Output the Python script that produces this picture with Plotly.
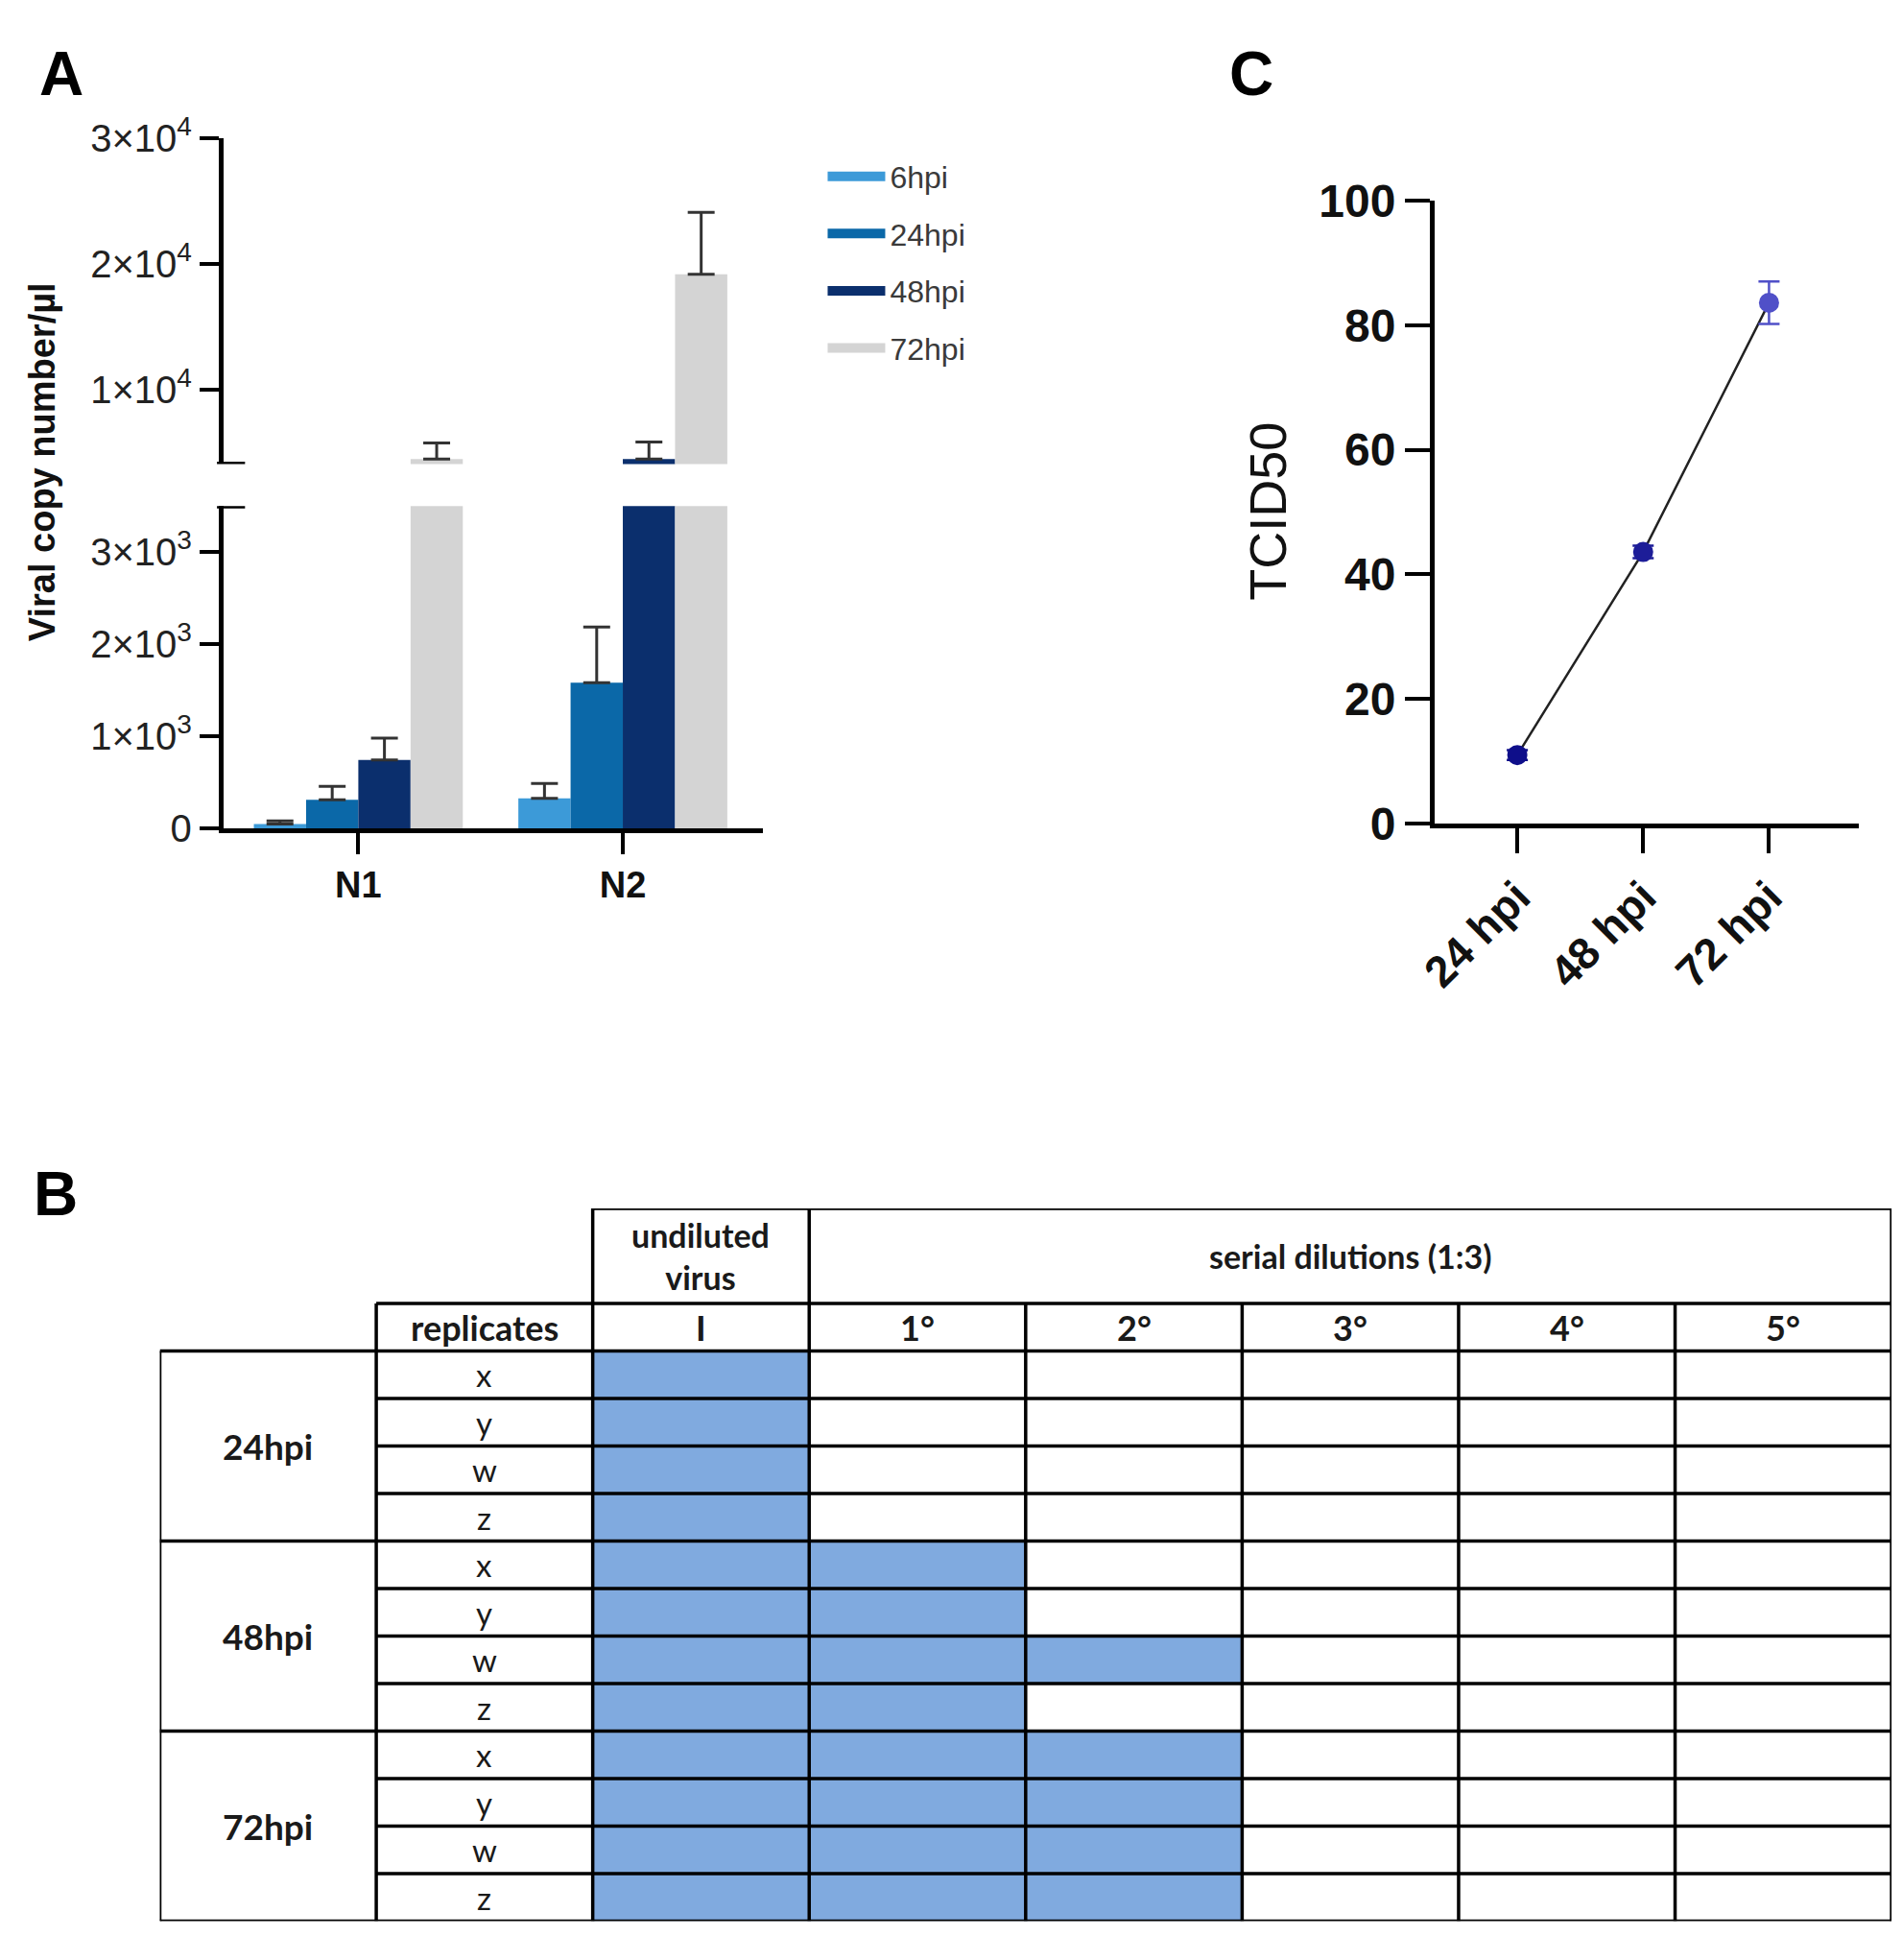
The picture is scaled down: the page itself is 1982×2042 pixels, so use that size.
import plotly.graph_objects as go

# ---- panel A : viral copy number (broken y axis) ----
targets = ['N1', 'N2']
timepoints_a = ['6hpi', '24hpi', '48hpi', '72hpi']
bar_colors = ['#3c9ad8', '#0b68a8', '#0b2f6d', '#d4d4d4']
copies_mean = {
    '6hpi': [45, 325],
    '24hpi': [309, 1580],
    '48hpi': [742, 4490],
    '72hpi': [4490, 19170],
}
copies_err = {
    '6hpi': [35, 160],
    '24hpi': [145, 606],
    '48hpi': [237, 1360],
    '72hpi': [1270, 4920],
}
low_ticks = [0, 1000, 2000, 3000]
low_ticktext = ['0', '1×10<sup>3</sup>', '2×10<sup>3</sup>', '3×10<sup>3</sup>']
high_ticks = [10000, 20000, 30000]
high_ticktext = ['1×10<sup>4</sup>', '2×10<sup>4</sup>', '3×10<sup>4</sup>']
low_range = [0, 3500]
high_range = [4100, 30000]

# ---- panel C : TCID50 ----
timepoints_c = ['24 hpi', '48 hpi', '72 hpi']
tcid50_mean = [11.0, 43.6, 83.6]
tcid50_err = [0.8, 1.0, 3.4]
marker_colors = ['#0e0e8a', '#1d1d98', '#5050c8']

# ---- panel B : dilution table ----
groups = ['24hpi', '48hpi', '72hpi']
replicates = ['x', 'y', 'w', 'z']
dilutions = ['I', '1°', '2°', '3°', '4°', '5°']
# number of positive wells (counted from the undiluted column) per replicate
positive_wells = [
    [1, 1, 1, 1],
    [2, 2, 3, 2],
    [3, 3, 3, 3],
]
well_blue = '#80aadf'

W, H = 1982, 2042
FONT = 'Liberation Sans, Arial, sans-serif'
TFONT = 'Lato, Liberation Sans, sans-serif'


def px_x(p):
    return p / W


def px_y(p):
    return 1 - p / H


fig = go.Figure()

# bars, drawn in both segments of the broken axis
for i, tp in enumerate(timepoints_a):
    for xa, ya in (('x', 'y'), ('x2', 'y2')):
        fig.add_trace(go.Bar(
            x=targets, y=copies_mean[tp],
            marker=dict(color=bar_colors[i], line=dict(width=0)),
            error_y=dict(type='data', array=copies_err[tp],
                         arrayminus=[0] * len(targets), symmetric=False,
                         color='#333333', thickness=3, width=14),
            xaxis=xa, yaxis=ya, showlegend=False, hoverinfo='skip',
        ))
    # legend swatch
    fig.add_trace(go.Scatter(
        x=[None], y=[None], mode='lines', name=tp,
        line=dict(color=bar_colors[i], width=15),
        legendgroup=tp, xaxis='x', yaxis='y',
    ))

# panel C line + points
fig.add_trace(go.Scatter(
    x=timepoints_c, y=tcid50_mean, mode='lines',
    line=dict(color='#222222', width=2.5),
    xaxis='x3', yaxis='y3', showlegend=False, hoverinfo='skip',
))
for i, tp in enumerate(timepoints_c):
    fig.add_trace(go.Scatter(
        x=[tp], y=[tcid50_mean[i]], mode='markers',
        marker=dict(color=marker_colors[i], size=21),
        error_y=dict(type='data', array=[tcid50_err[i]],
                     color=marker_colors[i], thickness=2.5, width=11),
        xaxis='x3', yaxis='y3', showlegend=False, cliponaxis=False,
    ))

# panel B table fills
n_cols = 2 + len(dilutions)
n_head = 3
z = []
for g in positive_wells:
    for cnt in g:
        z.append([1 if c < cnt else 0 for c in range(len(dilutions))])
n_rows = n_head + len(z)
fig.add_trace(go.Heatmap(
    z=z, x0=2.5, dx=1, y0=n_head + 0.5, dy=1,
    colorscale=[[0, 'white'], [1, well_blue]], zmin=0, zmax=1,
    showscale=False, hoverinfo='skip', xaxis='x4', yaxis='y4',
))

# table grid
shapes = []


def hline(y, x0, x1):
    shapes.append(dict(type='line', xref='x4', yref='y4', x0=x0, x1=x1,
                       y0=y, y1=y, line=dict(color='black', width=3.5)))


def vline(x, y0, y1):
    shapes.append(dict(type='line', xref='x4', yref='y4', x0=x, x1=x,
                       y0=y0, y1=y1, line=dict(color='black', width=3.5)))


hline(0, 2, n_cols)
hline(2, 1, n_cols)
hline(n_head, 0, n_cols)
for k in range(1, len(z) + 1):
    if k % len(replicates) == 0:
        hline(n_head + k, 0, n_cols)
    else:
        hline(n_head + k, 1, n_cols)
vline(0, n_head, n_rows)
vline(1, 2, n_rows)
vline(2, 0, n_rows)
vline(3, 0, n_rows)
for c in range(4, n_cols):
    vline(c, 2, n_rows)
vline(n_cols, 0, n_rows)

# axis break marks for panel A
for yref, yv in (('y', low_range[1]), ('y2', high_range[0])):
    shapes.append(dict(type='line', xref='x domain', yref=yref,
                       x0=-0.012, x1=0.04, y0=yv, y1=yv,
                       line=dict(color='black', width=5)))

annotations = []


def table_text(x, y, text, size, bold=True):
    annotations.append(dict(xref='x4', yref='y4', x=x, y=y, text=text,
                            showarrow=False, xanchor='center', yanchor='middle',
                            font=dict(family=TFONT, size=size, color='#1a1a1a',
                                      weight='bold' if bold else 'normal')))


table_text(2.5, 1.0, 'undiluted<br>virus', 34)
table_text(5.5, 1.0, 'serial dilutions (1:3)', 34)
table_text(1.5, 2.5, 'replicates', 36)
for j, d in enumerate(dilutions):
    table_text(2.5 + j, 2.5, d, 36)
for gi, g in enumerate(groups):
    table_text(0.5, n_head + gi * len(replicates) + len(replicates) / 2, g, 37)
    for ri, r in enumerate(replicates):
        table_text(1.5, n_head + gi * len(replicates) + ri + 0.5, r, 33, bold=False)

# panel letters and titles
for letter, lx, ly in (('A', 44, 50), ('C', 1297, 50), ('B', 38, 1250)):
    annotations.append(dict(xref='paper', yref='paper', x=px_x(lx), y=px_y(ly),
                            text=letter, showarrow=False,
                            xanchor='center', yanchor='middle',
                            font=dict(family=FONT, size=64, color='black',
                                      weight='bold')))
annotations.append(dict(xref='paper', yref='paper', x=px_x(25), y=px_y(466),
                        text='Viral copy number/µl', textangle=-90,
                        showarrow=False, xanchor='center', yanchor='middle',
                        font=dict(family=FONT, size=38, color='#111111',
                                  weight='bold')))
annotations.append(dict(xref='paper', yref='paper', x=px_x(1314), y=px_y(519),
                        text='TCID50', textangle=-90, showarrow=False,
                        xanchor='center', yanchor='middle',
                        font=dict(family=FONT, size=54, color='#111111')))

axis_common = dict(showline=True, linecolor='black', linewidth=5,
                   ticks='outside', tickcolor='black', tickwidth=4,
                   showgrid=False, zeroline=False)

fig.update_layout(
    width=W, height=H,
    margin=dict(l=0, r=0, t=0, b=0),
    paper_bgcolor='white', plot_bgcolor='white',
    barmode='group', bargap=0.21, bargroupgap=0,
    font=dict(family=FONT, color='#222222'),
    showlegend=True,
    legend=dict(x=px_x(846), y=px_y(132), xanchor='left', yanchor='top',
                font=dict(family=FONT, size=32, color='#3a3a3a'),
                tracegroupgap=15, itemwidth=60, bgcolor='rgba(0,0,0,0)'),
    xaxis=dict(domain=[px_x(215), px_x(783)], anchor='y', type='category',
               range=[-0.51, 1.53], ticklen=22,
               tickfont=dict(size=38, color='#111111', weight='bold'),
               **axis_common),
    yaxis=dict(domain=[px_y(858), px_y(513)], anchor='x', range=low_range,
               tickvals=low_ticks, ticktext=low_ticktext, ticklen=20,
               tickfont=dict(size=40, color='#222222'), **axis_common),
    xaxis2=dict(domain=[px_x(215), px_x(783)], anchor='y2', matches='x',
                type='category', visible=False),
    yaxis2=dict(domain=[px_y(468), px_y(119)], anchor='x2', range=high_range,
                tickvals=high_ticks, ticktext=high_ticktext, ticklen=20,
                tickfont=dict(size=40, color='#222222'), **axis_common),
    xaxis3=dict(domain=[px_x(1490), px_x(1937)], anchor='y3', type='category',
                range=[-0.657, 2.717], ticklen=26, tickangle=-45,
                tickfont=dict(size=46, color='#111111', weight='bold'),
                **axis_common),
    yaxis3=dict(domain=[px_y(853), px_y(186)], anchor='x3', range=[0, 100],
                dtick=20, ticklen=26,
                tickfont=dict(size=48, color='#111111', weight='bold'),
                **axis_common),
    xaxis4=dict(domain=[px_x(148), px_x(1971)], anchor='y4',
                range=[0, n_cols], visible=False),
    yaxis4=dict(domain=[px_y(2028), px_y(1265)], anchor='x4',
                range=[n_rows, 0], visible=False),
    shapes=shapes,
    annotations=annotations,
)

fig.write_html('out.html', config={'displayModeBar': False},
               post_script="document.body.style.margin='0';")
